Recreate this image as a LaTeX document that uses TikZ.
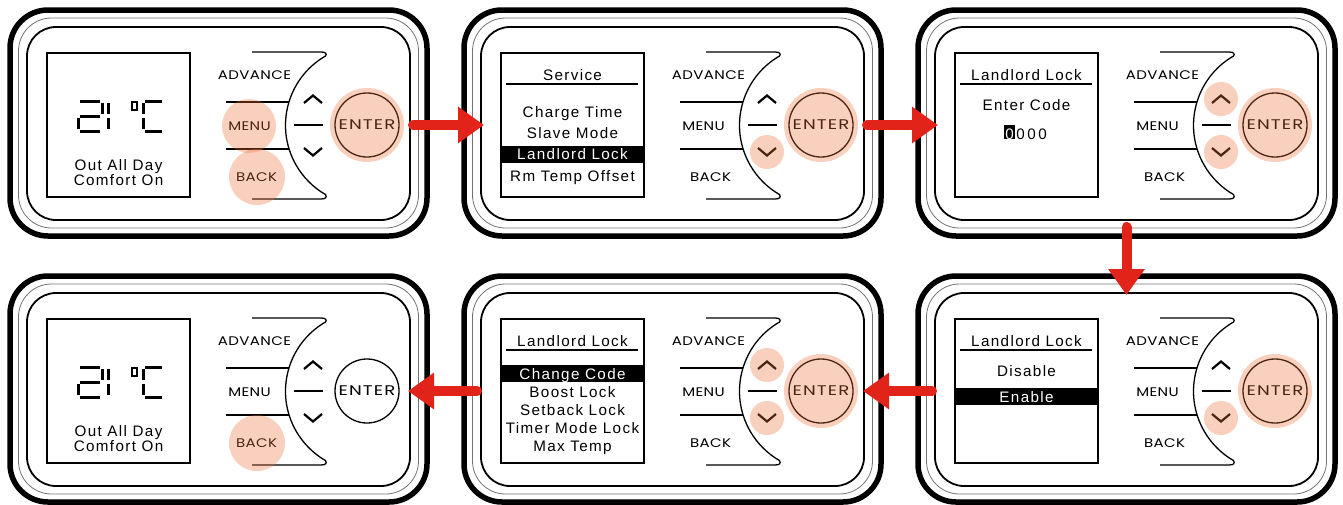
\documentclass[tikz,border=0pt]{standalone}
\usepackage{fontspec}
\setmainfont{Liberation Sans}
\newfontfamily\btnfont[FakeStretch=1.2,LetterSpace=3]{Poppins}
\newfontfamily\enterfont[FakeStretch=1.3,LetterSpace=8]{Poppins}
\newfontfamily\scrfont[LetterSpace=9]{Liberation Sans}
\usetikzlibrary{arrows.meta}
\definecolor{arrowred}{RGB}{226,35,26}
\definecolor{hlcol}{RGB}{236,110,55}
\tikzset{
 frameA/.style={draw, line width=5.5pt, rounded corners=38pt, minimum width=417pt, minimum height=226pt, inner sep=0pt, outer sep=0pt},
 frameB/.style={draw=black!55, line width=0.8pt, rounded corners=33pt, minimum width=400pt, minimum height=210pt, inner sep=0pt, outer sep=0pt},
 frameC/.style={draw, line width=1.8pt, rounded corners=29pt, minimum width=383pt, minimum height=193pt, inner sep=0pt, outer sep=0pt},
 screenbox/.style={draw, line width=1.4pt, minimum width=143pt, minimum height=144pt, inner sep=0pt, outer sep=0pt},
 btnline/.style={line width=1.3pt},
 chev/.style={line width=2.2pt, line join=miter},
 seg/.style={line width=3pt},
 btnlabel/.style={font=\btnfont\fontsize{12.5}{12.5}\selectfont, inner sep=0pt, anchor=base},
 enterbtn/.style={draw, circle, line width=1.3pt, minimum size=64pt, inner sep=0pt, outer sep=0pt, font=\enterfont\fontsize{14}{14}\selectfont},
 scrtext/.style={font=\scrfont\fontsize{15.2}{15.2}\selectfont, inner sep=0pt, anchor=base},
 invtext/.style={scrtext, text=white},
 uline/.style={line width=1.5pt},
 hl/.style={fill=hlcol, fill opacity=0.33},
 redarrow/.style={draw=arrowred, line width=10pt, line cap=round, -{Triangle[length=26pt,width=35pt]}},
}
% #1 name prefix, #2 x shift, #3 y shift, #4 overlays, #5 screen content
\newcommand\devpanel[5]{%
\begin{scope}[shift={(#2,#3)}]
 \node[frameA] (#1out) at (218.5,123) {};
 \node[frameB] (#1mid) at (218.5,123) {};
 \node[frameC] (#1in) at (218.5,123.5) {};
 \node[screenbox] (#1scr) at (118.5,125) {};
 \draw[btnline] (252,52) -- (321,52) .. controls (326,52) and (327,54) .. (325.5,56)
   arc[start angle=120, end angle=240, radius=80pt]
   .. controls (327,197) and (326,199) .. (321,199) -- (252,199);
 \draw[btnline] (226,102) -- (288.5,102) (226,149) -- (288.5,149) (294,125) -- (323,125);
 \draw[chev] (304,103) -- (313,95.5) -- (322,103);
 \draw[chev] (304,148) -- (313,155.5) -- (322,148);
 \node[btnlabel] (#1adv) at (254.5,79) {ADVANCE};
 \node[btnlabel] (#1menu) at (249.5,130) {MENU};
 \node[btnlabel] (#1back) at (256.5,181) {BACK};
 \node[enterbtn] (#1enter) at (367,125) {ENTER};
 #5
 #4
\end{scope}}
\newcommand\homescreen[1]{%
 \draw[seg] (80,101)--(100,101) (102,103)--(102,114) (80,116)--(100,116) (78,118)--(78,129) (80,131)--(100,131)
   (108,103)--(108,114) (108,118)--(108,129)
   (145,101)--(162,101) (143,103)--(143,114) (143,118)--(143,129) (145,131)--(162,131);
 \draw[line width=1.5pt] (132,102) rectangle (137,110);
 \node[scrtext] (#1l1) at (118.5,170) {Out All Day};
 \node[scrtext] (#1l2) at (118.5,185) {Comfort On};
}
\begin{document}
\begin{tikzpicture}[x=1pt,y=-1pt]
\useasboundingbox (0,0) rectangle (1343,504);

% top-left: home, MENU + BACK + ENTER
\devpanel{p1}{0}{0}{%
 \fill[hl] (249,126) circle[radius=27pt];
 \fill[hl] (257,177) circle[radius=28pt];
 \fill[hl] (367,125) circle[radius=37pt];
}{\homescreen{p1}}

% top-middle: Service menu
\devpanel{p2}{454}{0}{%
 \fill[hl] (313,152) circle[radius=17pt];
 \fill[hl] (367,125) circle[radius=37pt];
}{%
 \node[scrtext] (p2h) at (118.5,80) {Service};
 \draw[uline] (52,84) -- (184,84);
 \node[scrtext] (p2a) at (118.5,117.5) {Charge Time};
 \node[scrtext] (p2b) at (118.5,138.5) {Slave Mode};
 \fill (47,146) rectangle (190,163);
 \node[invtext] (p2c) at (118.5,159.5) {Landlord Lock};
 \node[scrtext] (p2d) at (118.5,181.5) {Rm Temp Offset};
}

% top-right: Enter code
\devpanel{p3}{908}{0}{%
 \fill[hl] (313,99) circle[radius=17pt];
 \fill[hl] (313,152) circle[radius=17pt];
 \fill[hl] (367,125) circle[radius=37pt];
}{%
 \node[scrtext] (p3h) at (118.5,80) {Landlord Lock};
 \draw[uline] (52,84) -- (184,84);
 \node[scrtext] (p3a) at (118.5,110) {Enter Code};
 \fill (96,125) rectangle (107,139);
 \node[invtext] (p3d1) at (101.5,139) {0};
 \node[scrtext] (p3d2) at (112.5,139) {0};
 \node[scrtext] (p3d3) at (123.5,139) {0};
 \node[scrtext] (p3d4) at (134.5,139) {0};
}

% bottom-left: home, BACK
\devpanel{p4}{0}{266}{%
 \fill[hl] (257,177) circle[radius=28pt];
}{\homescreen{p4}}

% bottom-middle: lock options
\devpanel{p5}{454}{266}{%
 \fill[hl] (313,99) circle[radius=17pt];
 \fill[hl] (313,152) circle[radius=17pt];
 \fill[hl] (367,125) circle[radius=37pt];
}{%
 \node[scrtext] (p5h) at (118.5,80) {Landlord Lock};
 \draw[uline] (52,84) -- (184,84);
 \fill (47,99) rectangle (190,116);
 \node[invtext] (p5a) at (118.5,113) {Change Code};
 \node[scrtext] (p5b) at (118.5,131) {Boost Lock};
 \node[scrtext] (p5c) at (118.5,149) {Setback Lock};
 \node[scrtext] (p5d) at (118.5,167) {Timer Mode Lock};
 \node[scrtext] (p5e) at (118.5,185) {Max Temp};
}

% bottom-right: enable / disable
\devpanel{p6}{908}{266}{%
 \fill[hl] (313,152) circle[radius=17pt];
 \fill[hl] (367,125) circle[radius=37pt];
}{%
 \node[scrtext] (p6h) at (118.5,80) {Landlord Lock};
 \draw[uline] (52,84) -- (184,84);
 \node[scrtext] (p6a) at (118.5,110) {Disable};
 \fill (47,122) rectangle (190,139);
 \node[invtext] (p6b) at (118.5,136) {Enable};
}

% flow arrows
\draw[redarrow] ([xshift=14pt]p1enter.east) -- ([xshift=3pt]p2in.west |- p1enter.east);
\draw[redarrow] ([xshift=14pt]p2enter.east) -- ([xshift=3pt]p3in.west |- p2enter.east);
\draw[redarrow] ([yshift=9pt]p3out.south) -- ([yshift=-2pt]p6in.north);
\draw[redarrow] ([xshift=-3pt]p6in.west |- p6enter.west) -- ([xshift=10pt]p6enter.east -| p5enter.east);
\draw[redarrow] ([xshift=-4pt]p5in.west |- p5enter.west) -- ([xshift=9pt]p4enter.east);
\end{tikzpicture}
\end{document}
